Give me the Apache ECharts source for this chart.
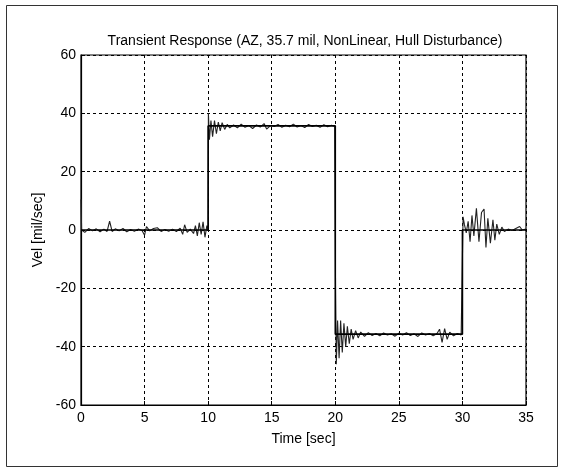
<!DOCTYPE html>
<html><head><meta charset="utf-8">
<script src="https://cdn.jsdelivr.net/npm/echarts@6/dist/echarts.min.js"></script>
<style>html,body{margin:0;padding:0;background:#fff}#c{width:563px;height:468px}</style>
</head><body><div id="c"></div>
<script>
const titleText = 'Transient Response (AZ, 35.7 mil, NonLinear, Hull Disturbance)';
const xTicks = [0, 5, 10, 15, 20, 25, 30, 35];
const yTicks = [-60, -40, -20, 0, 20, 40, 60];
const cmdTime = [0, 10, 10, 20, 20, 30, 30, 35];
const cmdVel  = [0, 0, 35.7, 35.7, -35.7, -35.7, 0, 0];
const respTime = [
  0, 0.05, 0.3, 0.6, 0.9, 1.2, 1.5, 1.8, 2.05, 2.25, 2.45, 2.7, 3.0, 3.3, 3.6, 3.9, 4.2, 4.5, 4.8,
  5.0, 5.15, 5.4, 5.7, 6.0, 6.3, 6.6, 6.9, 7.2, 7.5, 7.8, 8.0, 8.15, 8.35, 8.6, 8.85, 9.0, 9.15,
  9.3, 9.45, 9.6, 9.75, 9.9, 10.0,
  10.02, 10.1, 10.22, 10.35, 10.5, 10.65, 10.8, 10.95, 11.1, 11.3, 11.5, 11.7, 12.0, 12.3, 12.6,
  12.9, 13.2, 13.5, 13.8, 14.1, 14.4, 14.6, 14.9, 15.2, 15.5, 15.8, 16.1, 16.4, 16.7, 17.0, 17.3,
  17.6, 17.9, 18.2, 18.5, 18.8, 19.1, 19.4, 19.7, 19.95,
  20.02, 20.08, 20.18, 20.3, 20.42, 20.55, 20.68, 20.82, 20.95, 21.1, 21.25, 21.4, 21.6, 21.8, 22.0,
  22.3, 22.6, 22.9, 23.2, 23.5, 23.8, 24.1, 24.4, 24.7, 25.0, 25.3, 25.6, 25.9, 26.2, 26.5, 26.8,
  27.1, 27.4, 27.7, 28.0, 28.2, 28.4, 28.6, 28.8, 29.0, 29.3, 29.6, 29.9,
  30.05, 30.15, 30.3, 30.45, 30.6, 30.75, 30.9, 31.1, 31.3, 31.5, 31.7, 31.85, 32.0, 32.2, 32.4,
  32.55, 32.7, 32.9, 33.1, 33.3, 33.6, 33.9, 34.2, 34.5, 34.7, 35.0
];
const respVel = [
  10.5, 0, -0.8, 0.5, -0.3, 0.4, -0.6, 0.3, -0.5, 3.0, -0.5, 0.4, -0.3, 0.5, -0.6, 0.2, -0.4, 0.3, -0.2,
  -1.8, 1.2, -0.3, 0.5, 0.8, -0.5, 0.2, -0.4, 0.3, -0.5, 0.6, -1.5, 1.8, -0.8, 0.3, -1.2, 1.5, -2.0,
  2.5, -1.5, 2.8, -2.5, 1.5, 0,
  40, 31, 37.5, 32, 37.5, 33, 37, 34, 36.8, 34.5, 36.2, 35, 36, 35, 36.3,
  35.2, 35.8, 34.8, 36, 35.3, 36.5, 34.6, 35.8, 35.5, 36.2, 35.2, 35.9, 35.4, 36.3, 35.3, 35.8,
  35.1, 36.2, 35.5, 35.9, 35.2, 36.1, 35.4, 35.9, 35.6,
  -20, -46, -31, -44, -31, -42, -32, -40, -33, -39, -34, -37.5, -34.5, -37, -35,
  -36.5, -35.2, -36.2, -35.5, -36.3, -35.3, -36, -35.6, -36.4, -35.4, -36, -35.2, -36.2, -35.6, -36.5, -35.3,
  -36, -35.5, -36.3, -35.5, -34, -38.5, -33.8, -37.5, -35, -36.3, -35.5, -36,
  4.5, 2, -1, 3, -4, 5, -2, 7.4, -4, 6, 7.2, -6, 4, -4.5, 3.5,
  -3.5, 2, -1.5, 1, -0.5, 0.3, -0.2, 0.5, 1.2, 0, 0.3
];

const FONT = '"Liberation Sans", Arial, sans-serif';
const chart = echarts.init(document.getElementById('c'), null, {renderer: 'canvas'});
const gridLine = {show: true, lineStyle: {color: '#000', type: [3, 3], width: 1}};
chart.setOption({
  animation: false,
  backgroundColor: '#fff',
  title: {
    text: titleText, left: 300, top: 29, textAlign: 'center',
    textStyle: {fontFamily: FONT, fontSize: 14, fontWeight: 'normal', color: '#000'}
  },
  grid: {left: 81, right: 37, top: 55, bottom: 63, show: true, borderColor: '#000', borderWidth: 1.2},
  xAxis: {
    type: 'value', min: 0, max: 35, interval: 5,
    name: 'Time [sec]', nameLocation: 'middle', nameGap: 27,
    nameTextStyle: {fontFamily: FONT, fontSize: 14, color: '#000'},
    axisLine: {show: true, onZero: false, lineStyle: {color: '#000', width: 1.2}},
    axisTick: {show: true, inside: true, length: 4, lineStyle: {color: '#000'}},
    axisLabel: {fontFamily: FONT, fontSize: 14, color: '#000', margin: 6,
      formatter: v => xTicks.includes(v) ? String(v) : ''},
    splitLine: gridLine
  },
  yAxis: {
    type: 'value', min: -60, max: 60, interval: 20,
    name: 'Vel [mil/sec]', nameLocation: 'middle', nameGap: 30,
    nameTextStyle: {fontFamily: FONT, fontSize: 14, color: '#000'},
    axisLine: {show: true, onZero: false, lineStyle: {color: '#000', width: 1.2}},
    axisTick: {show: true, inside: true, length: 4, lineStyle: {color: '#000'}},
    axisLabel: {fontFamily: FONT, fontSize: 14, color: '#000', margin: 5,
      formatter: v => yTicks.includes(v) ? String(v) : ''},
    splitLine: gridLine
  },
  graphic: [{
    type: 'rect', shape: {x: 6.5, y: 5.5, width: 551, height: 461},
    style: {fill: 'none', stroke: '#333', lineWidth: 1}, silent: true, z: -1
  }],
  series: [
    {
      type: 'line', data: respTime.map((t, i) => [t, respVel[i]]),
      showSymbol: false, lineStyle: {color: '#222', width: 1.1}, z: 2
    },
    {
      type: 'line', data: cmdTime.map((t, i) => [t, cmdVel[i]]),
      showSymbol: false, lineStyle: {color: '#000', width: 1.6}, z: 3
    }
  ]
});
</script></body></html>
